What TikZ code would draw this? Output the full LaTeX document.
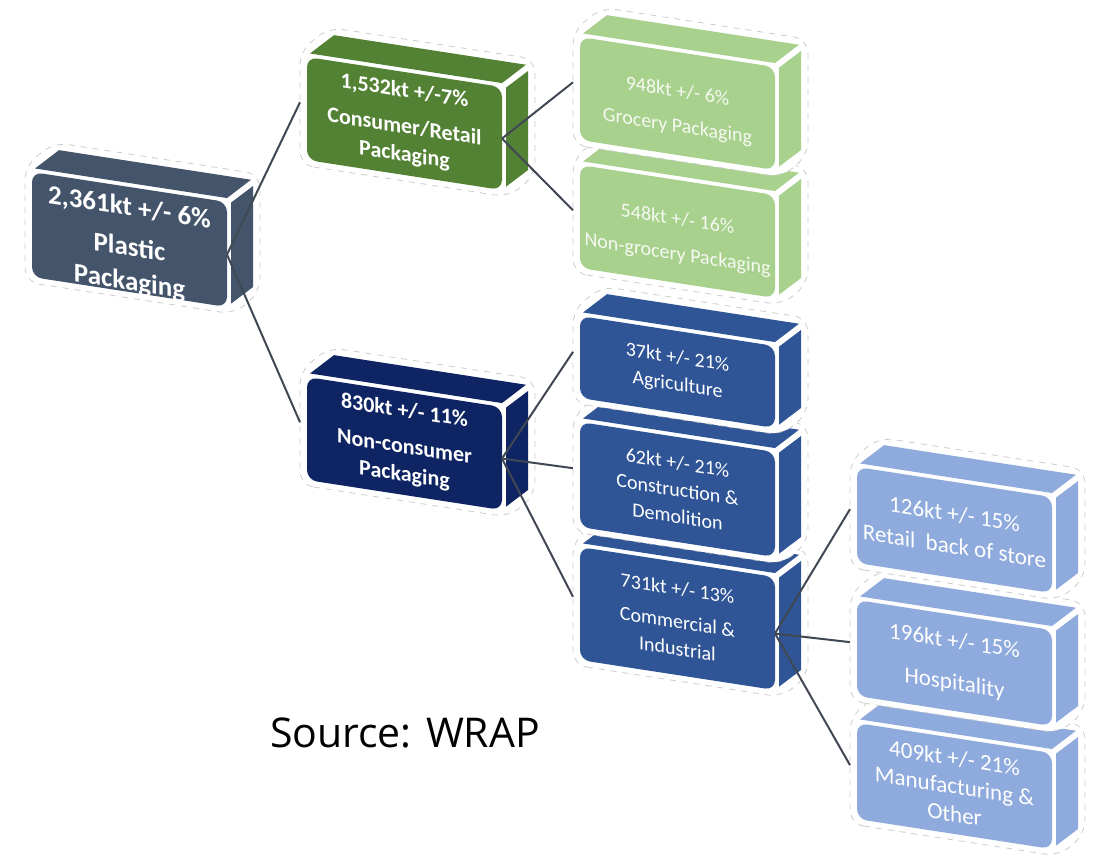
\documentclass[tikz,border=0pt]{standalone}
\usepackage{fontspec}
\setmainfont{Carlito}
\newfontfamily\srcfont{Open Sans}
\usepackage{tikz}

\definecolor{plasticcol}{HTML}{44546A}
\definecolor{consumercol}{HTML}{548235}
\definecolor{grocerycol}{HTML}{A9D18E}
\definecolor{navycol}{HTML}{0E2463}
\definecolor{sectorcol}{HTML}{2F5597}
\definecolor{storecol}{HTML}{8FAADC}
\definecolor{linkcol}{HTML}{404854}

% #1 name, #2 front top left, #3 height, #4 colour, #5 text style, #6 text
\newcommand{\pkgbox}[6]{%
  \begin{scope}[shift={#2},yslant=-0.154]
    \filldraw[fill=white,draw=gray!40,dashed,rounded corners=7]
      (-7,#3+6) -- (202,#3+6) -- (228,#3-20) -- (228,-33) -- (22,-33) -- (-7,-5) -- cycle;
    \fill[#4,rounded corners=5] (0,0) rectangle (195,#3);
    \fill[#4] (3,-4) -- (195,-4) -- (219,-26) -- (27,-26) -- cycle;
    \fill[#4] (199,#3-4) -- (199,0) -- (221,-20) -- (221,#3-24) -- cycle;
    \node[boxtext,#5] (#1) at (97.5,#3/2) {#6};
    \coordinate (#1-in) at (-7,0.45*#3);
    \coordinate (#1-out) at (195,0.5*#3);
  \end{scope}}

\begin{document}
\begin{tikzpicture}
[x=0.5pt,y=-0.5pt,
boxtext/.style={text=white,align=center,transform shape,inner sep=0pt,
  font=\fontsize{10}{13.5}\selectfont},
bigtext/.style={font=\bfseries\fontsize{11}{14}\selectfont},
storetext/.style={font=\fontsize{11.5}{14}\selectfont},
link/.style={draw=linkcol,line width=1pt},]

\useasboundingbox (0,0) rectangle (1094,859);

\pkgbox{plastic}{(32,172)}{105}{plasticcol}{font=\bfseries\fontsize{13.5}{17}\selectfont,yshift=-3pt}{2,361kt +/- 6\%\\[3pt] Plastic\\ Packaging}

\pkgbox{consumer}{(307,57)}{103}{consumercol}{bigtext}{1,532kt +/-7\%\\[4pt] Consumer/Retail\\ Packaging}
\pkgbox{noncons}{(307,377)}{103}{navycol}{bigtext}{830kt +/- 11\%\\[4pt] Non-consumer\\ Packaging}

% third column, from the bottom up
\pkgbox{commercial}{(580,547)}{113}{sectorcol}{}{731kt +/- 13\%\\[3pt] Commercial \&\\ Industrial}
\pkgbox{construction}{(580,422)}{105}{sectorcol}{}{62kt +/- 21\%\\ Construction \&\\ Demolition}
\pkgbox{agriculture}{(580,316)}{82}{sectorcol}{}{37kt +/- 21\%\\ Agriculture}
\pkgbox{nongrocery}{(580,165)}{103}{grocerycol}{text=white!88!grocerycol,yshift=-3pt}{548kt +/- 16\%\\[4pt] Non-grocery Packaging}
\pkgbox{grocery}{(580,37)}{103}{grocerycol}{text=white!88!grocerycol,yshift=-3pt}{948kt +/- 6\%\\[4pt] Grocery Packaging}

% fourth column
\pkgbox{manufacturing}{(857,723)}{96}{storecol}{storetext}{409kt +/- 21\%\\ Manufacturing \&\\ Other}
\pkgbox{hospitality}{(857,600)}{96}{storecol}{storetext}{196kt +/- 15\%\\[7pt] Hospitality}
\pkgbox{backstore}{(857,467)}{96}{storecol}{storetext}{126kt +/- 15\%\\[2pt] Retail\ \ back of store}

\draw[link] (plastic-out) -- (consumer-in);
\draw[link] (plastic-out) -- (noncons-in);
\draw[link] (consumer-out) -- (grocery-in);
\draw[link] (consumer-out) -- (nongrocery-in);
\draw[link] (noncons-out) -- (agriculture-in);
\draw[link] (noncons-out) -- (construction-in);
\draw[link] (noncons-out) -- (commercial-in);
\draw[link] (commercial-out) -- (backstore-in);
\draw[link] (commercial-out) -- (hospitality-in);
\draw[link] (commercial-out) -- (manufacturing-in);

\node[font=\srcfont\fontsize{20.5}{24}\selectfont] (source) at (405,733) {Source: WRAP};

\end{tikzpicture}
\end{document}
